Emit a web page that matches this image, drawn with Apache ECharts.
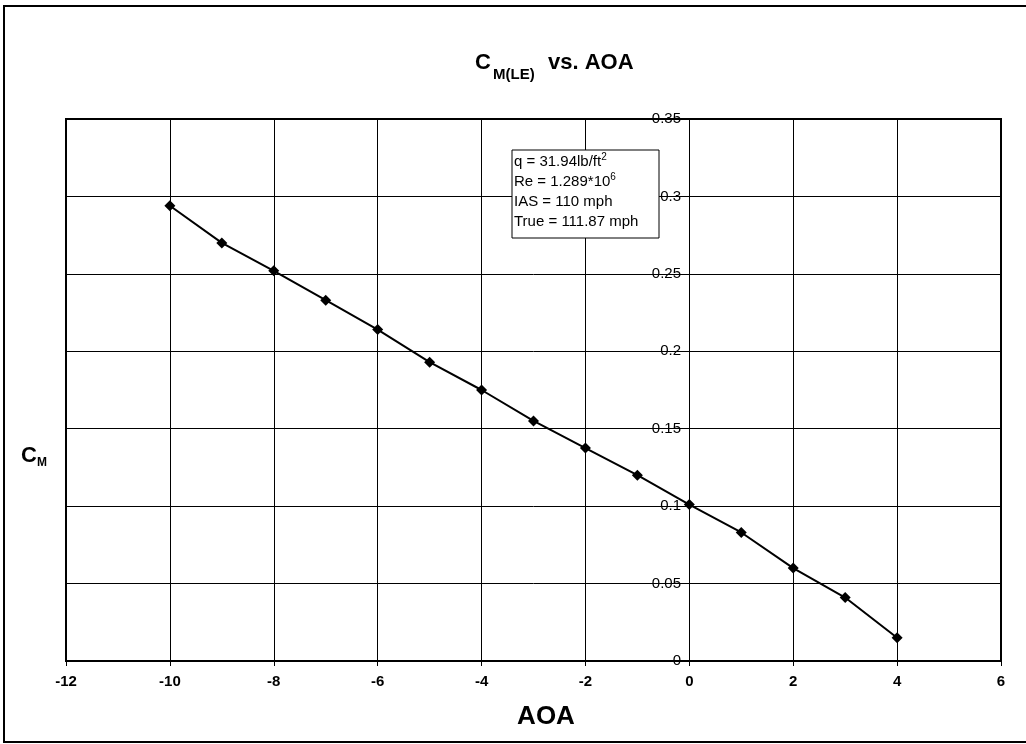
<!DOCTYPE html>
<html>
<head>
<meta charset="utf-8">
<script src="https://cdn.jsdelivr.net/npm/echarts@6/dist/echarts.min.js"></script>
<style>
html,body{margin:0;padding:0;background:#fff;}
#chart{width:1026px;height:744px;}
</style>
</head>
<body>
<div id="chart"></div>
<script>
// Data
var aoa = [-10, -9, -8, -7, -6, -5, -4, -3, -2, -1, 0, 1, 2, 3, 4];
var cm  = [0.294, 0.270, 0.252, 0.233, 0.214, 0.193, 0.175, 0.155, 0.1375, 0.120, 0.101, 0.083, 0.060, 0.041, 0.015];
var infoLines = ['q = 31.94lb/ft', 'Re = 1.289*10', 'IAS = 110 mph', 'True = 111.87 mph'];
var infoSups = ['2', '6', '', ''];

var FONT = '"Liberation Sans", Arial, sans-serif';
var chart = echarts.init(document.getElementById('chart'));

var GL = 66, GR = 25, GT = 119, GB = 83;
var plotW = 1026 - GL - GR;
var xMin = -12, xMax = 6;
var yAxisOffset = -Math.round(plotW * (0 - xMin) / (xMax - xMin));

var boxText = infoLines.map(function (t, i) {
  return infoSups[i] ? '{t|' + t + '}{sup|' + infoSups[i] + '}' : '{t|' + t + '}';
}).join('\n');

chart.setOption({
  backgroundColor: '#fff',
  animation: false,
  grid: {left: GL, right: GR, top: GT, bottom: GB, show: true, borderColor: '#000', borderWidth: 2, backgroundColor: 'transparent'},
  xAxis: {
    type: 'value', min: xMin, max: xMax, interval: 2,
    axisLine: {show: true, onZero: false, lineStyle: {color: '#000', width: 2}},
    axisTick: {show: true, length: 5, lineStyle: {color: '#000'}},
    axisLabel: {color: '#000', fontFamily: FONT, fontWeight: 'bold', fontSize: 15, margin: 13},
    splitLine: {show: true, lineStyle: {color: '#000', width: 1}}
  },
  yAxis: {
    type: 'value', min: 0, max: 0.35, interval: 0.05,
    position: 'left', offset: yAxisOffset,
    axisLine: {show: true, onZero: false, lineStyle: {color: '#000', width: 1}},
    axisTick: {show: false},
    axisLabel: {color: '#000', fontFamily: FONT, fontSize: 15, margin: 8, padding: [0, 0, 5, 0],
      formatter: function (v) { return String(Math.round(v * 100) / 100); }},
    splitLine: {show: true, lineStyle: {color: '#000', width: 1}}
  },
  series: [{
    type: 'line',
    data: aoa.map(function (x, i) { return [x, cm[i]]; }),
    symbol: 'diamond', symbolSize: 11,
    itemStyle: {color: '#000'},
    lineStyle: {color: '#000', width: 2},
    z: 5
  }],
  graphic: [
    {type: 'rect', shape: {x: 4, y: 6, width: 1030, height: 736}, style: {fill: 'none', stroke: '#000', lineWidth: 2}, silent: true, z: 10},
    // title
    {type: 'text', x: 475, y: 63, z: 10, style: {text: 'C', fontFamily: FONT, fontWeight: 'bold', fontSize: 22, fill: '#000', verticalAlign: 'middle'}},
    {type: 'text', x: 493, y: 75, z: 10, style: {text: 'M(LE)', fontFamily: FONT, fontWeight: 'bold', fontSize: 15, fill: '#000', verticalAlign: 'middle'}},
    {type: 'text', x: 548, y: 63, z: 10, style: {text: 'vs. AOA', fontFamily: FONT, fontWeight: 'bold', fontSize: 22, fill: '#000', verticalAlign: 'middle'}},
    // y axis name
    {type: 'text', x: 21, y: 456, z: 10, style: {text: 'C', fontFamily: FONT, fontWeight: 'bold', fontSize: 22, fill: '#000', verticalAlign: 'middle'}},
    {type: 'text', x: 37, y: 463, z: 10, style: {text: 'M', fontFamily: FONT, fontWeight: 'bold', fontSize: 12, fill: '#000', verticalAlign: 'middle'}},
    // x axis name
    {type: 'text', x: 546, y: 717, z: 10, style: {text: 'AOA', fontFamily: FONT, fontWeight: 'bold', fontSize: 26, fill: '#000', align: 'center', verticalAlign: 'middle'}},
    // info box
    {type: 'rect', shape: {x: 512, y: 150, width: 147, height: 88}, style: {fill: '#fff', stroke: '#000', lineWidth: 1}, z: 8},
    {type: 'text', left: 514, top: 152, z: 9, style: {
      text: boxText,
      rich: {
        t: {fontFamily: FONT, fontSize: 15, fill: '#000', lineHeight: 20},
        sup: {fontFamily: FONT, fontSize: 10, fill: '#000', lineHeight: 20, verticalAlign: 'top', padding: [0, 0, 8, 0]}
      }
    }}
  ]
});
</script>
</body>
</html>
